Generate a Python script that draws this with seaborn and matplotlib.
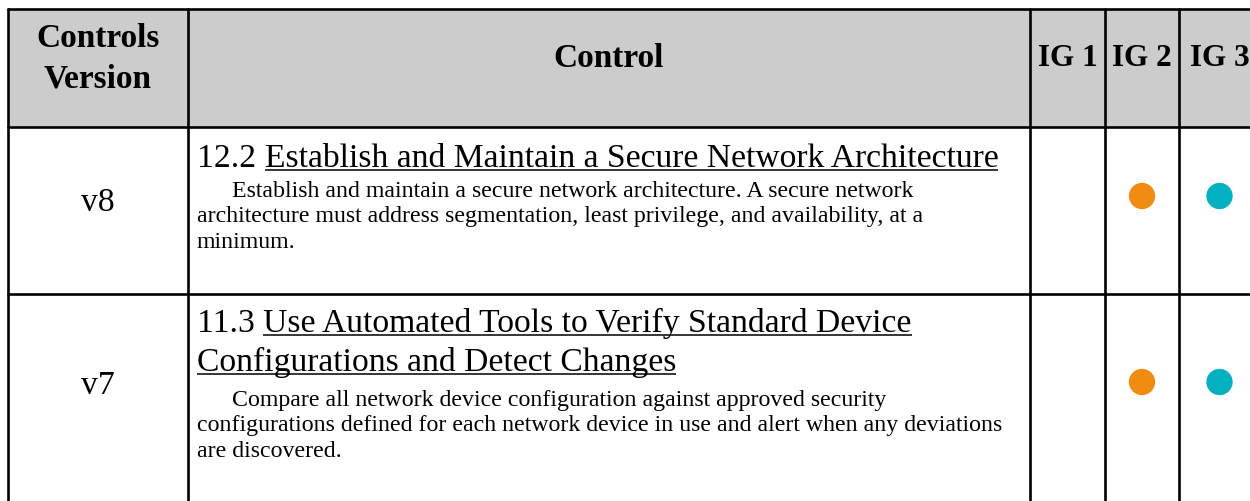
import matplotlib
matplotlib.use("Agg")
import matplotlib.pyplot as plt
from matplotlib.patches import Rectangle
import pandas as pd
import seaborn as sns

# table content
headers = ["Controls\nVersion", "Control", "IG 1", "IG 2", "IG 3"]
versions = ["v8", "v7"]
control_ids = ["12.2", "11.3"]
control_titles = [
    ["Establish and Maintain a Secure Network Architecture"],
    ["Use Automated Tools to Verify Standard Device",
     "Configurations and Detect Changes"],
]
control_desc = [
    ["Establish and maintain a secure network architecture. A secure network",
     "architecture must address segmentation, least privilege, and availability, at a",
     "minimum."],
    ["Compare all network device configuration against approved security",
     "configurations defined for each network device in use and alert when any deviations",
     "are discovered."],
]
ig1 = [False, False]
ig2 = [True, True]
ig3 = [True, True]
ig_colors = {"IG 1": "#f5c518", "IG 2": "#f18c12", "IG 3": "#03b0bf"}

# layout (pixels)
W, H = 1250, 502
col_edges = [8, 188, 1030, 1105, 1179, 1260]
row_edges = [10, 128, 295, 520]
title_base = [167, 332]
desc_base = [197, 406]
version_base = [211, 394]
dot_y = [197, 383]
title_pt, desc_pt, head_pt, ig_pt = 24.2, 17.2, 24, 22.5
title_step, desc_step = 39, 25.5

sns.set_theme(style="white")
plt.rcParams["font.family"] = ["Liberation Serif", "DejaVu Serif"]

fig = plt.figure(figsize=(W / 100, H / 100), dpi=100)
ax = fig.add_axes([0, 0, 1, 1])
ax.set_xlim(0, W)
ax.set_ylim(H, 0)
renderer = fig.canvas.get_renderer()

ax.add_patch(Rectangle((col_edges[0], row_edges[0]), col_edges[-1] - col_edges[0],
                       row_edges[1] - row_edges[0], fc="#cccccc", ec="none", zorder=0))
for y in row_edges[:-1]:
    ax.plot([col_edges[0], col_edges[-1]], [y, y], color="black", lw=1.9, zorder=2)
for x in col_edges[:-1]:
    ax.plot([x, x], [row_edges[0], row_edges[-1]], color="black", lw=1.9, zorder=2)
ax.set_xlim(0, W)
ax.set_ylim(H, 0)


def put(x, y, s, size, weight="normal", ha="left", underline=False):
    t = ax.text(x, y, s, fontsize=size, fontweight=weight, ha=ha, va="baseline",
                color="black", zorder=4)
    bb = t.get_window_extent(renderer=renderer)
    if underline:
        ax.plot([bb.x0, bb.x1], [y + 4, y + 4], color="black", lw=1.1,
                solid_capstyle="butt", zorder=4)
    return bb.x1


# header row
cx = [(a + b) / 2 for a, b in zip(col_edges[:-1], col_edges[1:])]
for i, line in enumerate(headers[0].split("\n")):
    put(cx[0], 47 + i * 41, line, head_pt, "bold", "center")
put(cx[1], 67, headers[1], head_pt, "bold", "center")
for c in range(2, 5):
    put(cx[c], 66, headers[c], ig_pt, "bold", "center")

# body rows
text_x = col_edges[1] + 9
for r in range(2):
    put(cx[0], version_base[r], versions[r], title_pt, ha="center")
    end = put(text_x, title_base[r], control_ids[r], title_pt)
    space = title_pt * 100 / 72 * 0.25
    for k, line in enumerate(control_titles[r]):
        x0 = end + space if k == 0 else text_x
        put(x0, title_base[r] + k * title_step, line, title_pt, underline=True)
    for k, line in enumerate(control_desc[r]):
        x0 = text_x + 35 if k == 0 else text_x
        put(x0, desc_base[r] + k * desc_step, line, desc_pt)

# implementation group markers
dots = []
for r, flags in enumerate(zip(ig1, ig2, ig3)):
    for c, on in enumerate(flags):
        if on:
            dots.append({"x": cx[2 + c], "y": dot_y[r], "group": headers[2 + c]})
df = pd.DataFrame(dots)
sns.scatterplot(data=df, x="x", y="y", hue="group", palette=ig_colors, s=360,
                linewidth=0, legend=False, ax=ax, zorder=3)

ax.set_xlim(0, W)
ax.set_ylim(H, 0)
ax.axis("off")
fig.savefig("out.png", dpi=100, facecolor="white")
